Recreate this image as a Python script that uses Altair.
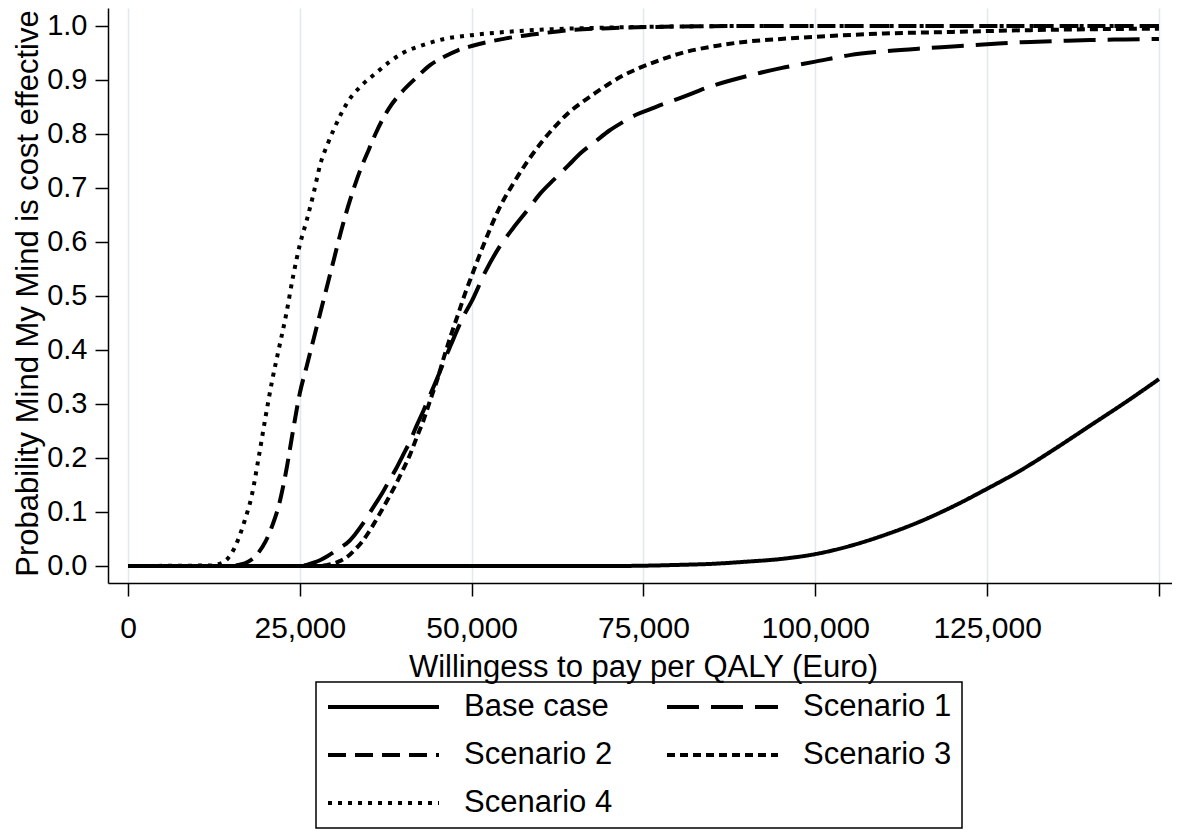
import altair as alt
import pandas as pd

# ---------------- data ----------------
series_names = ["Base case", "Scenario 1", "Scenario 2", "Scenario 3", "Scenario 4"]

base_x = [0, 70000, 75000, 80000, 85000, 90000, 95000, 100000, 105000, 110000,
          115000, 120000, 125000, 130000, 135000, 140000, 145000, 150000]
base_y = [0, 0, 0.0005, 0.002, 0.004, 0.008, 0.013, 0.022, 0.037, 0.057,
          0.081, 0.11, 0.143, 0.178, 0.218, 0.26, 0.302, 0.346]

s1_x = [0, 25000, 26000, 27000, 28000, 29000, 30000, 31000, 32000, 33000, 34000,
        35000, 36000, 37000, 38000, 39000, 40000, 41000, 42000, 43000, 44000,
        45000, 46000, 47000, 48000, 49000, 50000, 52000, 54000, 56000, 58000,
        60000, 62000, 64000, 66000, 68000, 70000, 72000, 74000, 76000, 78000,
        80000, 85000, 90000, 95000, 100000, 105000, 110000, 115000, 120000,
        125000, 130000, 135000, 140000, 145000, 150000]
s1_y = [0, 0, 0.002, 0.006, 0.011, 0.018, 0.026, 0.035, 0.044, 0.058, 0.075,
        0.095, 0.115, 0.135, 0.158, 0.18, 0.205, 0.23, 0.26, 0.288, 0.318,
        0.348, 0.38, 0.41, 0.44, 0.467, 0.49, 0.545, 0.59, 0.625, 0.657,
        0.69, 0.716, 0.741, 0.766, 0.786, 0.806, 0.822, 0.836, 0.846, 0.856,
        0.865, 0.889, 0.907, 0.922, 0.934, 0.946, 0.953, 0.958, 0.962,
        0.966, 0.97, 0.972, 0.974, 0.975, 0.976]

s2_x = [0, 15000, 16000, 17000, 18000, 19000, 20000, 21000, 22000, 23000, 24000,
        25000, 26000, 27000, 28000, 29000, 30000, 31000, 32000, 33000, 34000,
        35000, 36000, 38000, 40000, 42000, 44000, 46000, 48000, 50000, 55000,
        60000, 65000, 70000, 80000, 90000, 150000]
s2_y = [0, 0, 0.002, 0.005, 0.012, 0.025, 0.045, 0.075, 0.115, 0.175, 0.25,
        0.32, 0.37, 0.42, 0.47, 0.52, 0.57, 0.62, 0.665, 0.705, 0.74,
        0.77, 0.8, 0.848, 0.88, 0.905, 0.928, 0.943, 0.955, 0.963, 0.977,
        0.986, 0.993, 0.996, 0.999, 1.0, 1.0]

s3_x = [0, 28000, 29000, 30000, 31000, 32000, 33000, 34000, 35000, 36000, 37000,
        38000, 39000, 40000, 41000, 42000, 43000, 44000, 45000, 46000, 47000,
        48000, 49000, 50000, 52000, 54000, 56000, 58000, 60000, 62000, 64000,
        66000, 68000, 70000, 72000, 74000, 77000, 80000, 85000, 90000, 95000,
        100000, 110000, 120000, 130000, 140000, 150000]
s3_y = [0, 0, 0.002, 0.005, 0.01, 0.018, 0.03, 0.044, 0.062, 0.083, 0.105,
        0.128, 0.152, 0.178, 0.205, 0.238, 0.27, 0.308, 0.345, 0.388, 0.428,
        0.465, 0.503, 0.537, 0.603, 0.662, 0.707, 0.747, 0.782, 0.812, 0.838,
        0.858, 0.876, 0.893, 0.908, 0.92, 0.935, 0.948, 0.962, 0.971, 0.976,
        0.98, 0.986, 0.989, 0.992, 0.994, 0.995]

s4_x = [0, 12000, 13000, 14000, 15000, 16000, 17000, 18000, 19000, 20000, 21000,
        22000, 23000, 24000, 25000, 26000, 27000, 28000, 29000, 30000, 32000,
        34000, 36000, 38000, 40000, 43000, 46000, 50000, 55000, 60000, 70000,
        80000, 90000, 150000]
s4_y = [0, 0.001, 0.003, 0.008, 0.022, 0.048, 0.085, 0.13, 0.2, 0.275, 0.345,
        0.405, 0.465, 0.535, 0.595, 0.64, 0.69, 0.745, 0.78, 0.81, 0.86,
        0.89, 0.912, 0.933, 0.95, 0.965, 0.976, 0.983, 0.989, 0.993, 0.997,
        0.999, 1.0, 1.0]

x_ticks = [0, 25000, 50000, 75000, 100000, 125000, 150000]
y_ticks = [0.0, 0.1, 0.2, 0.3, 0.4, 0.5, 0.6, 0.7, 0.8, 0.9, 1.0]

# ---------------- styles ----------------
dash_styles = [[1, 0], [32, 12], [18, 9], [8, 5], [4, 6]]
FONT = "Liberation Sans"

frames = []
for name, xs, ys in zip(series_names,
                        [base_x, s1_x, s2_x, s3_x, s4_x],
                        [base_y, s1_y, s2_y, s3_y, s4_y]):
    frames.append(pd.DataFrame({"series": name, "wtp": xs, "prob": ys}))
df = pd.concat(frames, ignore_index=True)

chart = alt.Chart(df).mark_line(
    strokeWidth=4, color="black", interpolate="monotone", strokeCap="butt"
).encode(
    x=alt.X(
        "wtp:Q",
        scale=alt.Scale(domain=[-2910, 151900], nice=False, zero=False),
        axis=alt.Axis(
            values=x_ticks,
            labelExpr="datum.value >= 150000 ? '' : format(datum.value, ',')",
            title="Willingess to pay per QALY (Euro)",
            grid=True, gridColor="#dfe9ee", gridWidth=1.5,
            tickSize=13, tickColor="black", tickWidth=1.5,
            domainColor="black", domainWidth=1.5,
            labelFont=FONT, labelFontSize=30, labelColor="black", labelPadding=17,
            labelFlush=False, labelOverlap=False,
            titleFont=FONT, titleFontSize=31, titleFontWeight="normal", titleColor="black",
            titleBaseline="alphabetic", titleY=93, titleX=535,
        ),
    ),
    y=alt.Y(
        "prob:Q",
        scale=alt.Scale(domain=[-0.0315, 1.0333], nice=False, zero=False),
        axis=alt.Axis(
            values=y_ticks, format=".1f",
            title="Probability Mind My Mind is cost effective",
            grid=False,
            tickSize=13, tickColor="black", tickWidth=1.5,
            domainColor="black", domainWidth=1.5,
            labelFont=FONT, labelFontSize=29, labelColor="black", labelPadding=8,
            labelFlush=False, labelOverlap=False,
            titleFont=FONT, titleFontSize=31, titleFontWeight="normal", titleColor="black",
            titleAngle=270, titleBaseline="alphabetic", titleAlign="center",
            titleX=-71, titleY=285,
        ),
    ),
    strokeDash=alt.StrokeDash(
        "series:N",
        scale=alt.Scale(domain=series_names, range=dash_styles),
        legend=alt.Legend(
            orient="none", legendX=208, legendY=674,
            direction="horizontal", columns=2, title=None,
            symbolType="stroke", symbolSize=12321, symbolStrokeWidth=4,
            symbolStrokeColor="black", clipHeight=30,
            labelFont=FONT, labelFontSize=31, labelColor="black", labelOffset=23,
            labelLimit=0, columnPadding=52, rowPadding=17, padding=10,
            strokeColor="black",
        ),
    ),
).properties(
    width=1064, height=575,
    autosize=alt.AutoSizeParams(type="none"),
    padding={"left": 100, "top": 0, "right": 0, "bottom": 246},
    background="white",
).configure_view(stroke=None).configure_legend(strokeWidth=1.5)

chart.save("out.html", embed_options={"renderer": "svg", "actions": False})
